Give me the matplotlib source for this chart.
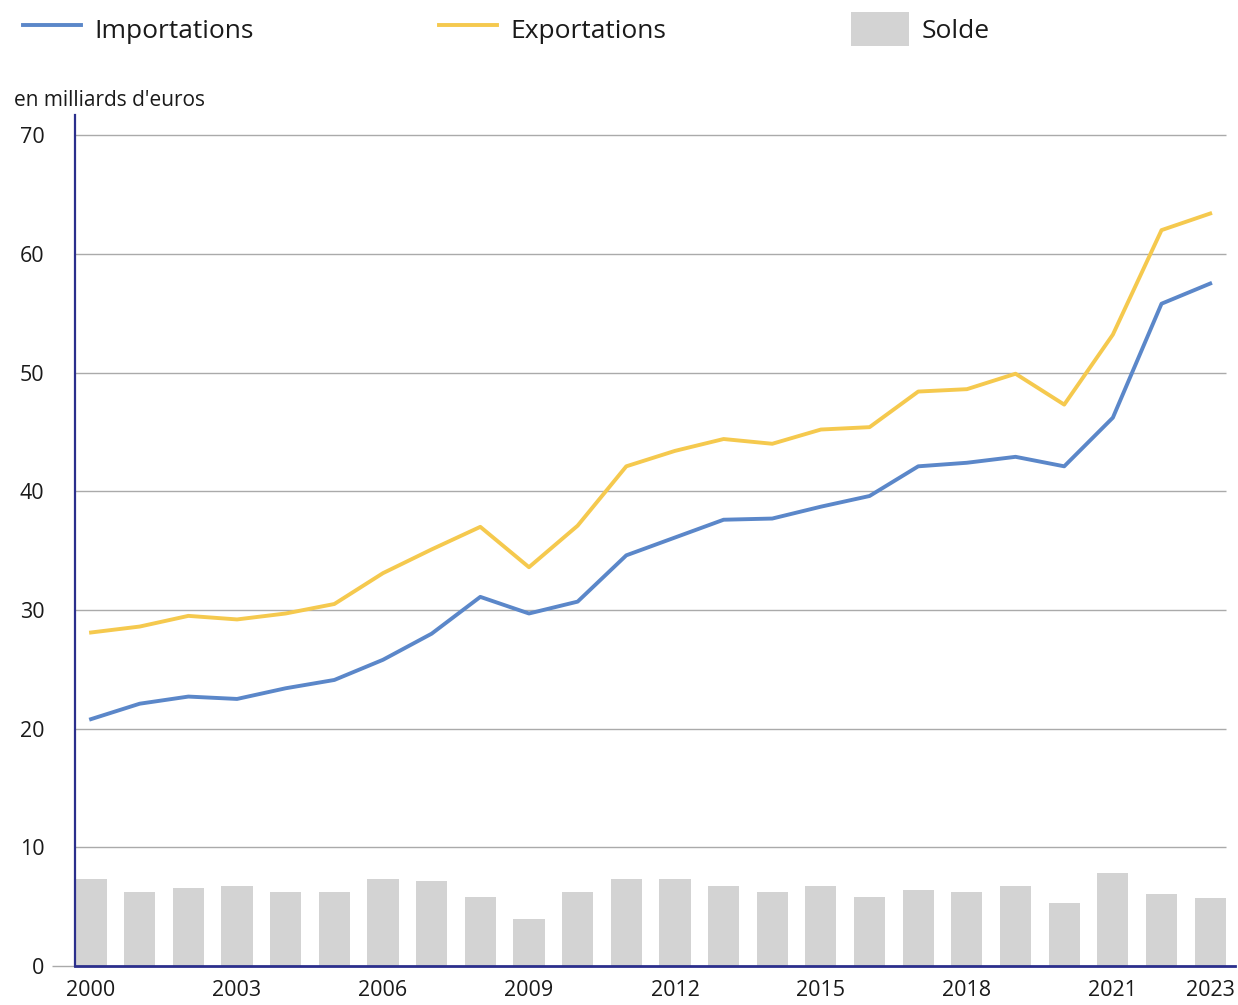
import matplotlib.pyplot as plt
import numpy as np

# valeurs (milliards d'euros)
annees = list(range(2000, 2024))
importations = [20.8, 22.1, 22.7, 22.5, 23.4, 24.1, 25.8, 28.0, 31.1, 29.7, 30.7, 34.6,
                36.1, 37.6, 37.7, 38.7, 39.6, 42.1, 42.4, 42.9, 42.1, 46.2, 55.8, 57.5]
exportations = [28.1, 28.6, 29.5, 29.2, 29.7, 30.5, 33.1, 35.1, 37.0, 33.6, 37.1, 42.1,
                43.4, 44.4, 44.0, 45.2, 45.4, 48.4, 48.6, 49.9, 47.3, 53.2, 62.0, 63.4]
solde = [7.3, 6.2, 6.6, 6.7, 6.2, 6.2, 7.3, 7.2, 5.8, 4.0, 6.2, 7.3,
         7.3, 6.7, 6.2, 6.7, 5.8, 6.4, 6.2, 6.7, 5.3, 7.8, 6.1, 5.7]
ticks_annees = [2000, 2003, 2006, 2009, 2012, 2015, 2018, 2021, 2023]
ticks_y = [0, 10, 20, 30, 40, 50, 60, 70]

plt.rcParams['font.family'] = ['Open Sans', 'DejaVu Sans']

bleu = '#5b87c9'
jaune = '#f5c94e'
gris = '#d3d3d3'
marine = '#2b2f8c'

fig = plt.figure(figsize=(12.38, 10.05), dpi=100)
ax = fig.add_axes([75/1238, 1-966/1005, 1160/1238, (966-115)/1005])

x = np.arange(len(annees))
ax.bar(x, solde, width=0.64, color=gris, label='Solde', zorder=2)
ax.plot(x, importations, color=bleu, lw=2.8, label='Importations', zorder=3)
ax.plot(x, exportations, color=jaune, lw=2.8, label='Exportations', zorder=3)

# grille horizontale
ax.hlines(ticks_y[1:], -0.33, 23.33, color='#aaaaaa', lw=1.0, zorder=1)
ax.hlines([0], -0.8, -0.33, color='#aaaaaa', lw=1.0, clip_on=False)

ax.set_xlim(-0.33, 23.51)
ax.set_ylim(0, 71.7)
ax.set_yticks(ticks_y)
ax.set_xticks([annees.index(a) for a in ticks_annees])
ax.set_xticklabels([str(a) for a in ticks_annees])
ax.tick_params(axis='y', length=0, pad=22, labelsize=15.5, labelcolor='#1a1a1a')
ax.tick_params(axis='x', length=0, pad=10, labelsize=15.5, labelcolor='#1a1a1a')

for s in ['top', 'right']:
    ax.spines[s].set_visible(False)
ax.spines['left'].set_color(marine)
ax.spines['left'].set_linewidth(1.6)
ax.spines['bottom'].set_color(marine)
ax.spines['bottom'].set_linewidth(2.0)
ax.spines['bottom'].set_zorder(4)

fig.text(14/1238, 1-100/1005, "en milliards d'euros", fontsize=15, color='#1a1a1a',
         va='center', ha='left')

h, l = ax.get_legend_handles_labels()
leg = fig.legend(h, l, loc='center left',
                 bbox_to_anchor=(0.004, 1-29/1005), ncol=3, frameon=False, fontsize=19,
                 handlelength=2.2, handleheight=1.6, handletextpad=0.5,
                 columnspacing=7.0, borderaxespad=0.3)
for t in leg.get_texts():
    t.set_color('#1a1a1a')

fig.savefig('out.png', dpi=100, facecolor='white')
